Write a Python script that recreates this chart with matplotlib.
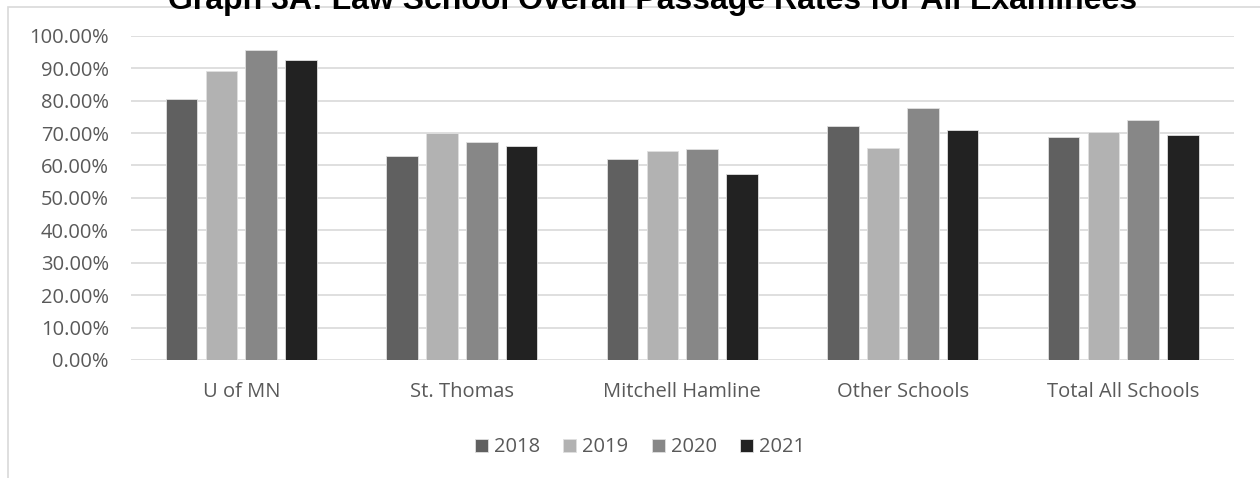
import matplotlib
matplotlib.use("Agg")
import matplotlib.pyplot as plt
import numpy as np
from matplotlib.patches import Rectangle
from matplotlib.ticker import PercentFormatter

categories = ["U of MN", "St. Thomas", "Mitchell Hamline", "Other Schools", "Total All Schools"]
years = ["2018", "2019", "2020", "2021"]
rate_2018 = [80.5, 62.9, 61.9, 72.3, 68.9]
rate_2019 = [89.2, 70.1, 64.5, 65.4, 70.2]
rate_2020 = [95.7, 67.1, 65.2, 77.7, 74.1]
rate_2021 = [92.5, 66.0, 57.3, 70.8, 69.4]
colors = ["#606060", "#b2b2b2", "#878787", "#222222"]

series = [rate_2018, rate_2019, rate_2020, rate_2021]

fig = plt.figure(figsize=(12.6, 4.78), dpi=100)
ax = fig.add_axes([0.104, 0.247, 0.875, 0.678])

x = np.arange(len(categories))
step = 0.181
width = 0.143
for i, (vals, yr, c) in enumerate(zip(series, years, colors)):
    ax.bar(x + (i - 1.5) * step, vals, width=width, color=c, label=yr,
           edgecolor="#e0e0e0", linewidth=0.6, zorder=3)

ax.set_xlim(-0.5, len(categories) - 0.5)
ax.set_ylim(0, 100)
ax.set_yticks(np.arange(0, 101, 10))
ax.yaxis.set_major_formatter(PercentFormatter(decimals=2))
ax.grid(axis="y", color="#d9d9d9", linewidth=1.2, zorder=0)
ax.set_axisbelow(True)
for s in ax.spines.values():
    s.set_visible(False)
ax.tick_params(axis="both", length=0, labelsize=14.5, colors="#595959", labelfontfamily="Open Sans")
ax.tick_params(axis="y", pad=16)
ax.tick_params(axis="x", pad=16, labelsize=14.5)
ax.set_xticks(x)
ax.set_xticklabels(categories)

leg = fig.legend(loc="center", bbox_to_anchor=(0.508, 0.064), ncol=4, frameon=False,
                 handlelength=0.65, handleheight=0.65, handletextpad=0.3, columnspacing=1.15,
                 prop={"family": "Open Sans", "size": 14.5})
for t in leg.get_texts():
    t.set_color("#595959")

fig.add_artist(Rectangle((8 / 1260, -0.1), 1.2, 1 - 7 / 478 + 0.1, transform=fig.transFigure,
                         fill=False, edgecolor="#d9d9d9", linewidth=1.2))

fig.text(653 / 1260, 1 - 9 / 478, "Graph 3A: Law School Overall Passage Rates for All Examinees",
         ha="center", va="baseline", fontsize=23, fontweight="bold", family="Liberation Sans",
         color="#000000")

fig.savefig("out.png", dpi=100)
